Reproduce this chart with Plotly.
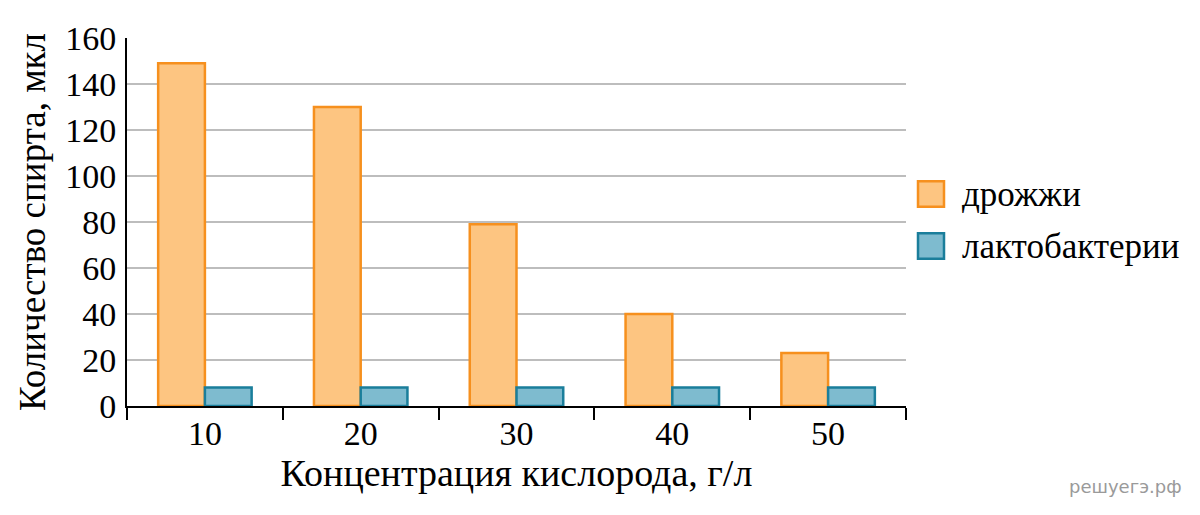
import plotly.graph_objects as go

categories = ["10", "20", "30", "40", "50"]
yeast = [149, 130, 79, 40, 23]
lacto = [8, 8, 8, 8, 8]
series_names = ["дрожжи", "лактобактерии"]
y_ticks = [0, 20, 40, 60, 80, 100, 120, 140, 160]

FONT = "'Liberation Serif', 'Times New Roman', serif"
fills = ["#FDC581", "#7EBBCF"]
borders = ["#F6901E", "#1A7E9B"]

# plot-area geometry (page pixels) used only to place legend swatches
PX0, PX1, PY0, PY1 = 127, 906, 31, 406


def px(x):
    return (x - PX0) / (PX1 - PX0)


def py(y):
    return (PY1 - y) / (PY1 - PY0)


fig = go.Figure()
for name, vals, f, b in zip(series_names, [yeast, lacto], fills, borders):
    fig.add_trace(go.Bar(
        x=categories, y=vals, name=name,
        marker=dict(color=f, line=dict(color=b, width=2.5)),
    ))

shapes = []
annotations = []
for i, (name, f, b) in enumerate(zip(series_names, fills, borders)):
    top = 177 + i * 53
    shapes.append(dict(
        type="rect", xref="paper", yref="paper",
        x0=px(918), x1=px(944), y0=py(top + 26), y1=py(top),
        fillcolor=f, line=dict(color=b, width=2.5),
    ))
    annotations.append(dict(
        text=name, xref="paper", yref="paper", x=px(960), y=py(top + 13),
        xanchor="left", yanchor="middle", showarrow=False,
        font=dict(family=FONT, size=35, color="black"),
    ))

annotations.append(dict(
    text="решуегэ.рф", xref="paper", yref="paper", x=px(1184), y=py(501),
    xanchor="right", yanchor="bottom", showarrow=False,
    font=dict(family="DejaVu Sans", size=18, color="#9A9A9A"),
))

# page body has an 8px margin: compensate
OFF = 8
fig.update_layout(
    width=1200, height=515,
    margin=dict(l=PX0 - OFF, r=1200 - (PX1 - OFF), t=PY0 - OFF, b=515 - (PY1 - OFF), pad=0),
    paper_bgcolor="white", plot_bgcolor="white",
    barmode="group", bargap=0.4, bargroupgap=0,
    font=dict(family=FONT, color="black", size=34),
    showlegend=False,
    xaxis=dict(
        type="category",
        showline=True, linecolor="black", linewidth=2,
        ticks="outside", tickson="boundaries", ticklen=12, tickwidth=2, tickcolor="black",
        tickfont=dict(family=FONT, size=34), ticklabelstandoff=-4,
        title=dict(text="Концентрация кислорода, г/л", font=dict(family=FONT, size=38), standoff=5),
        automargin=True,
        showgrid=False,
    ),
    yaxis=dict(
        range=[0, 160], tickvals=y_ticks,
        showline=True, linecolor="black", linewidth=2,
        ticks="", ticklabelstandoff=2,
        tickfont=dict(family=FONT, size=34),
        showgrid=True, gridcolor="#BDBDBD", gridwidth=1.5,
        zeroline=False,
        title=dict(text="Количество спирта, мкл", font=dict(family=FONT, size=37), standoff=8),
        automargin=True,
    ),
    shapes=shapes,
    annotations=annotations,
)

fig.write_html("out.html")
